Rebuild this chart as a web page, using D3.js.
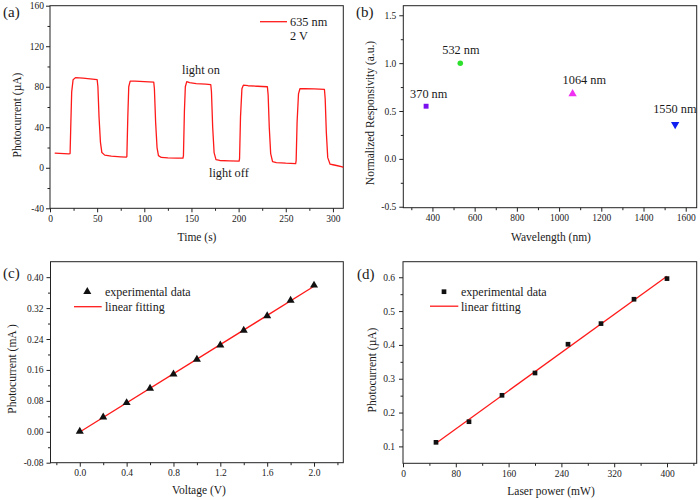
<!DOCTYPE html>
<html>
<head>
<meta charset="utf-8">
<script src="https://cdn.jsdelivr.net/npm/d3@7"></script>
<style>
body { margin: 0; background: #fff; }
svg text { font-family: "Liberation Serif", "Times New Roman", serif; fill: #1a1a1a; }
.tick line { stroke: #222; }
</style>
</head>
<body>
<svg id="fig" width="700" height="500"></svg>
<script>
// (a) on/off switching at 635 nm, 2 V
const timeS = [5, 10, 15, 20, 21.3, 22, 23, 24.5, 27, 35, 45, 50, 50.8, 52, 53.5, 55, 58, 65, 75, 81,
  81.5, 82.5, 83.5, 85, 90, 100, 110, 110.7, 112, 113.5, 115, 118, 125, 135, 141,
  141.5, 142.5, 143.5, 145, 148, 155, 165, 170.5, 171.2, 172.5, 174, 176, 180, 190, 200.5,
  201, 202, 203.5, 205, 210, 220, 230.5, 231.3, 232.5, 234, 236, 240, 250, 260.5,
  261, 262, 263.5, 265, 270, 280, 291, 291.8, 293, 294.5, 297, 300, 305, 310, 311];
const currentUA = [14.5, 14.2, 14, 13.8, 14, 40, 75, 87, 89, 88.5, 87.5, 87, 80, 50, 25, 15, 12.5, 11.5, 10.8, 10.5,
  11, 50, 80, 85.5, 85.5, 85, 84.5, 78, 45, 20, 12, 10.2, 9.8, 9.6, 9.5,
  12, 55, 80, 85, 84, 83, 82.5, 82, 75, 40, 15, 8, 7.2, 6.8, 6.5,
  9, 50, 78, 81.5, 81, 80.5, 80, 72, 40, 14, 6, 5, 4.5, 4.2,
  7, 45, 73, 78, 78, 77.8, 77.3, 68, 35, 10, 3.5, 3, 2, 1, 0.3];

// (b) normalized responsivity vs wavelength
const wavelengths = [370, 532, 1064, 1550];
const responsivity = [0.55, 1.0, 0.68, 0.36];
const wlLabels = ["370 nm", "532 nm", "1064 nm", "1550 nm"];
const wlColors = ["#7a10f0", "#2ee02e", "#f030f0", "#1020f0"];

// (c) photocurrent vs bias voltage
const voltage = [0, 0.2, 0.4, 0.6, 0.8, 1.0, 1.2, 1.4, 1.6, 1.8, 2.0];
const currentMA = [0.001, 0.038, 0.075, 0.112, 0.149, 0.187, 0.224, 0.262, 0.300, 0.340, 0.379];

// (d) photocurrent vs laser power
const laserPower = [50, 100, 150, 200, 250, 300, 350, 400];
const currentPow = [0.112, 0.173, 0.251, 0.317, 0.402, 0.463, 0.535, 0.596];

const SERIF = '"Liberation Serif", "Times New Roman", serif';
const svg = d3.select('#fig');
svg.append('rect').attr('width', 700).attr('height', 500).attr('fill', '#fff');

const fmt = f => d => d3.format(f)(d).replace('\u2212', '-');
const steps = (a, b, s) => d3.range(0, Math.round((b - a) / s) + 1).map(i => +(a + i * s).toFixed(4));

// Draw one framed panel with outward ticks on left and bottom
function panel(o) {
    const g = svg.append('g');
    const x = d3.scaleLinear().domain(o.xDomain).range([o.left, o.right]);
    const y = d3.scaleLinear().domain(o.yDomain).range([o.bottom, o.top]);

    const xa = g.append('g').attr('transform', `translate(0,${o.bottom})`)
        .call(d3.axisBottom(x).tickValues(o.xTicks).tickSize(4).tickPadding(3).tickFormat(fmt(o.xFmt)));
    const xm = g.append('g').attr('transform', `translate(0,${o.bottom})`)
        .call(d3.axisBottom(x).tickValues(o.xMinor).tickSize(2.5).tickFormat(''));
    const ya = g.append('g').attr('transform', `translate(${o.left},0)`)
        .call(d3.axisLeft(y).tickValues(o.yTicks).tickSize(4).tickPadding(o.yPad || 2).tickFormat(fmt(o.yFmt)));
    const ym = g.append('g').attr('transform', `translate(${o.left},0)`)
        .call(d3.axisLeft(y).tickValues(o.yMinor).tickSize(2.5).tickFormat(''));
    [xa, xm, ya, ym].forEach(a => {
        a.select('.domain').remove();
        a.attr('font-family', SERIF).attr('font-size', 9.5);
        a.selectAll('text').style('font-family', SERIF).style('font-size', '9.5px').attr('fill', '#1a1a1a');
    });

    g.append('rect')
        .attr('x', o.left).attr('y', o.top)
        .attr('width', o.right - o.left).attr('height', o.bottom - o.top)
        .attr('fill', 'none').attr('stroke', '#222').attr('stroke-width', 1);

    g.append('text').attr('x', o.xLab[1]).attr('y', o.xLab[2])
        .attr('text-anchor', 'middle').style('font-size', '11.5px').text(o.xLab[0]);
    g.append('text').attr('transform', `translate(${o.yLab[1]},${o.yLab[2]}) rotate(-90)`)
        .attr('text-anchor', 'middle').style('font-size', '11.5px').text(o.yLab[0]);
    g.append('text').attr('x', o.tag[1]).attr('y', o.tag[2])
        .style('font-size', '15px').text(o.tag[0]);
    return { g, x, y };
}

// ---- (a)
const pa = panel({
    left: 50, right: 343.3, top: 5.7, bottom: 208.3,
    xDomain: [0, 311], yDomain: [-40, 160],
    xTicks: steps(0, 300, 50), xMinor: steps(25, 275, 50),
    yTicks: steps(-40, 160, 40), yMinor: steps(-20, 140, 40),
    xFmt: 'd', yFmt: 'd', yPad: 2,
    xLab: ['Time (s)', 197, 241], yLab: ['Photocurrent (\u00b5A)', 21, 115],
    tag: ['(a)', 3, 17]
});
pa.g.append('path')
    .datum(timeS.map((t, i) => [t, currentUA[i]]))
    .attr('fill', 'none').attr('stroke', '#ff1a1a').attr('stroke-width', 1.3)
    .attr('stroke-linejoin', 'round')
    .attr('d', d3.line().x(d => pa.x(d[0])).y(d => pa.y(d[1])));
pa.g.append('line').attr('x1', 260).attr('x2', 287).attr('y1', 21.7).attr('y2', 21.7)
    .attr('stroke', '#ff1a1a').attr('stroke-width', 1.3);
pa.g.append('text').attr('x', 290).attr('y', 25.5).style('font-size', '12.3px').text('635 nm');
pa.g.append('text').attr('x', 290).attr('y', 40).style('font-size', '12.3px').text('2 V');
pa.g.append('text').attr('x', 182).attr('y', 74).style('font-size', '12.3px').text('light on');
pa.g.append('text').attr('x', 209).attr('y', 177).style('font-size', '12.3px').text('light off');

// ---- (b)
const pb = panel({
    left: 403.3, right: 696.7, top: 5.7, bottom: 207.7,
    xDomain: [262, 1652], yDomain: [-0.51, 1.6],
    xTicks: steps(400, 1600, 200), xMinor: steps(300, 1500, 200),
    yTicks: steps(-0.5, 1.5, 0.5), yMinor: steps(-0.25, 1.25, 0.5),
    xFmt: 'd', yFmt: '.1f', yPad: 3,
    xLab: ['Wavelength (nm)', 551, 241], yLab: ['Normalized Responsivity (a.u.)', 374, 113],
    tag: ['(b)', 356, 17]
});
const wlSymbols = [d3.symbolSquare, d3.symbolCircle, d3.symbolTriangle, d3.symbolTriangle];
const wlSizes = [24, 24, 30, 30];
const wlRot = [0, 0, 0, 180];
const wlLabelPos = [[-16, -8], [-18, -9], [-10, -10], [-22, -11]];
wavelengths.forEach((w, i) => {
    pb.g.append('path')
        .attr('d', d3.symbol(wlSymbols[i], wlSizes[i])())
        .attr('transform', `translate(${pb.x(w)},${pb.y(responsivity[i])}) rotate(${wlRot[i]})`)
        .attr('fill', wlColors[i]);
    pb.g.append('text')
        .attr('x', pb.x(w) + wlLabelPos[i][0]).attr('y', pb.y(responsivity[i]) + wlLabelPos[i][1])
        .style('font-size', '12.3px').text(wlLabels[i]);
});

// linear least-squares fit of a data series
function fit(xs, ys) {
    const mx = d3.mean(xs), my = d3.mean(ys);
    const k = d3.sum(xs, (v, i) => (v - mx) * (ys[i] - my)) / d3.sum(xs, v => (v - mx) ** 2);
    return v => my + k * (v - mx);
}

// ---- (c)
const pc = panel({
    left: 50.5, right: 343.3, top: 261.7, bottom: 462.7,
    xDomain: [-0.25, 2.25], yDomain: [-0.08, 0.44],
    xTicks: steps(0, 2, 0.4), xMinor: steps(-0.2, 2.2, 0.4),
    yTicks: steps(-0.08, 0.40, 0.08), yMinor: steps(-0.04, 0.36, 0.08),
    xFmt: '.1f', yFmt: '.2f', yPad: 3,
    xLab: ['Voltage (V)', 199, 494], yLab: ['Photocurrent (mA )', 16, 369],
    tag: ['(c)', 3, 278]
});
const fc = fit(voltage, currentMA);
pc.g.append('line')
    .attr('x1', pc.x(voltage[0])).attr('y1', pc.y(fc(voltage[0])))
    .attr('x2', pc.x(voltage[voltage.length - 1])).attr('y2', pc.y(fc(voltage[voltage.length - 1])))
    .attr('stroke', '#ff1a1a').attr('stroke-width', 1.3);
pc.g.selectAll('path.pt').data(voltage).join('path').attr('class', 'pt')
    .attr('d', d3.symbol(d3.symbolTriangle, 28)())
    .attr('transform', (d, i) => `translate(${pc.x(d)},${pc.y(currentMA[i])})`)
    .attr('fill', '#111');
pc.g.append('path').attr('d', d3.symbol(d3.symbolTriangle, 28)())
    .attr('transform', 'translate(87.3,291.7)').attr('fill', '#111');
pc.g.append('text').attr('x', 105).attr('y', 295.5).style('font-size', '12px').text('experimental data');
pc.g.append('line').attr('x1', 74).attr('x2', 101.7).attr('y1', 306.7).attr('y2', 306.7)
    .attr('stroke', '#ff1a1a').attr('stroke-width', 1.3);
pc.g.append('text').attr('x', 105).attr('y', 310.5).style('font-size', '12px').text('linear fitting');

// ---- (d)
const pd = panel({
    left: 403, right: 696.7, top: 261.7, bottom: 463.3,
    xDomain: [0, 445], yDomain: [0.05, 0.646],
    xTicks: steps(0, 400, 80), xMinor: steps(40, 440, 80),
    yTicks: steps(0.1, 0.6, 0.1), yMinor: steps(0.15, 0.55, 0.1),
    xFmt: 'd', yFmt: '.1f', yPad: 4,
    xLab: ['Laser power (mW)', 551, 495], yLab: ['Photocurrent (\u00b5A)', 376, 370],
    tag: ['(d)', 357, 279]
});
const fd = fit(laserPower, currentPow);
pd.g.append('line')
    .attr('x1', pd.x(laserPower[0])).attr('y1', pd.y(fd(laserPower[0])))
    .attr('x2', pd.x(laserPower[laserPower.length - 1])).attr('y2', pd.y(fd(laserPower[laserPower.length - 1])))
    .attr('stroke', '#ff1a1a').attr('stroke-width', 1.3);
pd.g.selectAll('path.pt').data(laserPower).join('path').attr('class', 'pt')
    .attr('d', d3.symbol(d3.symbolSquare, 22)())
    .attr('transform', (d, i) => `translate(${pd.x(d)},${pd.y(currentPow[i])})`)
    .attr('fill', '#111');
pd.g.append('path').attr('d', d3.symbol(d3.symbolSquare, 22)())
    .attr('transform', 'translate(444,291.7)').attr('fill', '#111');
pd.g.append('text').attr('x', 461).attr('y', 295.5).style('font-size', '12px').text('experimental data');
pd.g.append('line').attr('x1', 430).attr('x2', 458.3).attr('y1', 306.2).attr('y2', 306.2)
    .attr('stroke', '#ff1a1a').attr('stroke-width', 1.3);
pd.g.append('text').attr('x', 461).attr('y', 310.5).style('font-size', '12px').text('linear fitting');
</script>
</body>
</html>
